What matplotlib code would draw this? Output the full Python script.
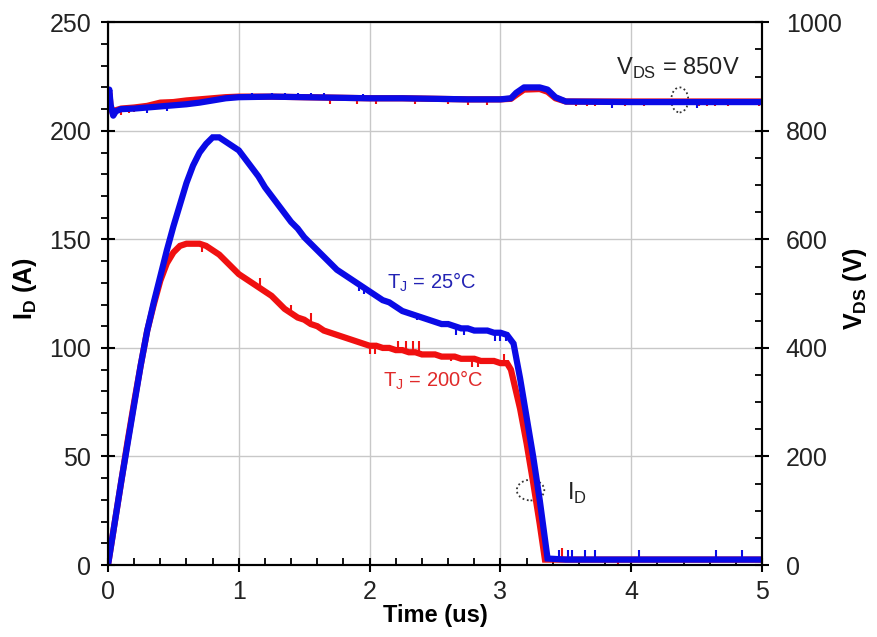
import numpy as np
import matplotlib
matplotlib.use("Agg")
import matplotlib.pyplot as plt
from matplotlib.patches import Ellipse
from matplotlib.ticker import MultipleLocator

plt.rcParams['font.family'] = ['Liberation Sans', 'DejaVu Sans']
plt.rcParams['mathtext.fontset'] = 'custom'
plt.rcParams['mathtext.rm'] = 'Liberation Sans'
plt.rcParams['mathtext.bf'] = 'Liberation Sans:bold'

# drain current, Tj = 25C (blue)
t_id25 = [0, 0.05, 0.10, 0.15, 0.20, 0.25, 0.30, 0.35, 0.40, 0.45, 0.50, 0.55, 0.60,
          0.65, 0.70, 0.75, 0.80, 0.85, 0.90, 0.95, 1.00, 1.05, 1.10, 1.15, 1.20, 1.25,
          1.30, 1.35, 1.40, 1.45, 1.50, 1.55, 1.60, 1.65, 1.70, 1.75, 1.80, 1.85, 1.90,
          1.95, 2.00, 2.05, 2.10, 2.15, 2.20, 2.25, 2.30, 2.35, 2.40, 2.45, 2.50, 2.55,
          2.60, 2.65, 2.70, 2.75, 2.80, 2.85, 2.90, 2.95, 3.00, 3.05, 3.10, 3.15, 3.20,
          3.25, 3.30, 3.36, 3.5, 4.0, 4.5, 5.0]
id25 = [0, 19, 38, 56, 74, 92, 108, 121, 133, 145, 156, 166, 176,
        184, 190, 194, 197, 197, 195, 193, 191, 187, 183, 179, 174, 170,
        166, 162, 158, 155, 151, 148, 145, 142, 139, 136, 134, 132, 130,
        128, 126, 124, 122, 121, 119, 117, 116, 115, 114, 113, 112, 111,
        111, 110, 109, 109, 108, 108, 108, 107, 107, 106, 102, 86, 68,
        50, 30, 3, 2.5, 2.5, 2.5, 2.5]

# drain current, Tj = 200C (red)
t_id200 = [0, 0.05, 0.10, 0.15, 0.20, 0.25, 0.30, 0.35, 0.40, 0.45, 0.50, 0.55, 0.60,
           0.65, 0.70, 0.75, 0.80, 0.85, 0.90, 0.95, 1.00, 1.05, 1.10, 1.15, 1.20, 1.25,
           1.30, 1.35, 1.40, 1.45, 1.50, 1.55, 1.60, 1.65, 1.70, 1.75, 1.80, 1.85, 1.90,
           1.95, 2.00, 2.05, 2.10, 2.15, 2.20, 2.25, 2.30, 2.35, 2.40, 2.45, 2.50, 2.55,
           2.60, 2.65, 2.70, 2.75, 2.80, 2.85, 2.90, 2.95, 3.00, 3.05, 3.08, 3.15, 3.20,
           3.25, 3.30, 3.34, 3.5, 4.0, 4.5, 5.0]
id200 = [0, 19, 38, 57, 75, 92, 108, 120, 131, 139, 144, 147, 148,
         148, 148, 147, 145, 143, 140, 137, 134, 132, 130, 128, 126, 124,
         121, 118, 116, 114, 113, 111, 110, 108, 107, 106, 105, 104, 103,
         102, 101, 101, 100, 100, 99, 99, 98, 98, 97, 97, 97, 96,
         96, 96, 95, 95, 95, 94, 94, 94, 93, 93, 90, 72, 56,
         38, 19, 2.5, 2.5, 2.5, 2.5, 2.5]

# drain-source voltage
t_vds = [0, 0.01, 0.02, 0.04, 0.06, 0.10, 0.20, 0.30, 0.40, 0.50, 0.60, 0.70, 0.80,
         0.90, 1.00, 1.25, 1.50, 1.75, 2.00, 2.25, 2.50, 2.75, 3.00, 3.08, 3.12, 3.18,
         3.30, 3.36, 3.42, 3.50, 4.00, 4.50, 5.00]
vds25 = [862, 876, 848, 828, 836, 840, 841, 843, 845, 847, 849, 852, 856,
         860, 862, 863, 862, 861, 860, 860, 859, 858, 858, 860, 870, 880,
         880, 876, 862, 854, 853, 853, 853]
vds200 = [862, 870, 845, 830, 838, 841, 843, 846, 852, 853, 856, 858, 860,
          862, 863, 863, 862, 861, 860, 860, 859, 858, 858, 859, 866, 876,
          877, 872, 860, 854, 854, 854, 854]

# scope noise spikes (time, tip value)
sp_id25_t = [1.92, 1.96, 2.36, 2.66, 2.72, 2.96, 3.00, 3.04, 3.45, 3.52, 3.55, 3.65, 3.72, 4.06, 4.65, 4.85]
sp_id25_v = [126, 125, 113, 106, 106, 103, 103, 103, 7, 7, 7, 7, 7, 7, 7, 7]
sp_id200_t = [0.72, 1.16, 1.40, 1.55, 1.85, 2.00, 2.04, 2.22, 2.28, 2.33, 2.38, 2.62, 2.78, 2.83, 3.03, 3.47, 3.90]
sp_id200_v = [144, 132, 120, 116, 103, 97, 97, 103, 103, 103, 103, 94, 91, 91, 97, 8, 0]
sp_v200_t = [0.10, 0.16, 0.20, 1.70, 1.90, 2.05, 2.35, 2.60, 2.75, 2.90, 3.58, 3.66, 3.72, 3.95, 4.10, 4.52, 4.58, 4.64, 4.74, 4.98]
sp_v200_v = [830, 833, 835, 850, 849, 850, 849, 849, 848, 848, 845, 845, 845, 846, 846, 846, 846, 846, 846, 845]
sp_v25_t = [0.30, 0.45, 1.10, 1.25, 1.35, 1.45, 1.55, 1.65, 1.95, 3.85, 4.50]
sp_v25_v = [833, 836, 870, 870, 870, 870, 870, 870, 868, 843, 843]

blue = '#0a0ae6'
red = '#f01010'

fig = plt.figure(figsize=(8.78, 6.37), dpi=100)
ax = fig.add_axes([0.123, 0.113, 0.745, 0.852])
ax2 = ax.twinx()

lw = 4.5
ax.plot(t_id200, id200, color=red, lw=lw, solid_joinstyle='miter')
ax.vlines(sp_id200_t, np.interp(sp_id200_t, t_id200, id200), sp_id200_v, color=red, lw=1.5)
ax.plot(t_id25, id25, color=blue, lw=lw, solid_joinstyle='miter')
ax.vlines(sp_id25_t, np.interp(sp_id25_t, t_id25, id25), sp_id25_v, color=blue, lw=1.5)

ax2.plot(t_vds, vds200, color=red, lw=lw)
ax2.vlines(sp_v200_t, np.interp(sp_v200_t, t_vds, vds200), sp_v200_v, color=red, lw=1.5)
ax2.plot(t_vds, vds25, color=blue, lw=lw)
ax2.vlines(sp_v25_t, np.interp(sp_v25_t, t_vds, vds25), sp_v25_v, color=blue, lw=1.5)

ax.set_xlim(0, 5)
ax.set_ylim(0, 250)
ax2.set_ylim(0, 1000)

ax.xaxis.set_major_locator(MultipleLocator(1))
ax.xaxis.set_minor_locator(MultipleLocator(0.2))
ax.yaxis.set_major_locator(MultipleLocator(50))
ax.yaxis.set_minor_locator(MultipleLocator(10))
ax2.yaxis.set_major_locator(MultipleLocator(200))
ax2.yaxis.set_minor_locator(MultipleLocator(50))

ax.grid(True, which='major', color='#c8c8c8', lw=1.0)
ax.set_axisbelow(True)

fs = 18
ax.tick_params(axis='x', which='major', direction='inout', length=10, width=1.5, labelsize=fs, pad=6, labelcolor='#222222')
ax.tick_params(axis='x', which='minor', direction='in', length=5, width=1.3)
ax.tick_params(axis='y', which='major', direction='inout', length=10, width=1.5, labelsize=fs, pad=7, labelcolor='#222222')
ax.tick_params(axis='y', which='minor', direction='out', length=5, width=1.3)
ax2.tick_params(axis='y', which='major', direction='inout', length=10, width=1.5, labelsize=fs, pad=12, labelcolor='#222222')
ax2.tick_params(axis='y', which='minor', direction='in', length=5, width=1.3)

for a in (ax, ax2):
    for s in a.spines.values():
        s.set_linewidth(1.5)

ax.set_xlabel('Time (us)', fontsize=17, fontweight='bold', labelpad=0)
ax.set_ylabel(r'I$_\mathbf{D}$ (A)', fontsize=18, fontweight='bold', va='center')
ax2.set_ylabel(r'V$_\mathbf{DS}$ (V)', fontsize=18, fontweight='bold', rotation=90, va='center')
ax.yaxis.set_label_coords(-0.127, 0.51)
ax2.yaxis.set_label_coords(1.142, 0.51)

ax.text(2.13, 130, r'T$_\mathregular{J}$ = 25°C', color='#2323b4', fontsize=14.5, ha='left', va='center')
ax.text(2.10, 85, r'T$_\mathregular{J}$ = 200°C', color='#e02a2a', fontsize=14.5, ha='left', va='center')
ax.text(3.51, 33, r'I$_\mathregular{D}$', color='#222222', fontsize=17, ha='left', va='center')
ax2.text(3.88, 915, r'V$_\mathregular{DS}$ = 850V', color='#222222', fontsize=17, ha='left', va='center')

ax.add_patch(Ellipse((3.23, 34.5), 0.21, 9.5, fill=False, ls=(0, (1, 1.5)), lw=1.3, ec='#333333'))
ax2.add_patch(Ellipse((4.37, 857), 0.13, 46, fill=False, ls=(0, (1, 1.5)), lw=1.3, ec='#333333'))

fig.savefig('out.png', dpi=100)
